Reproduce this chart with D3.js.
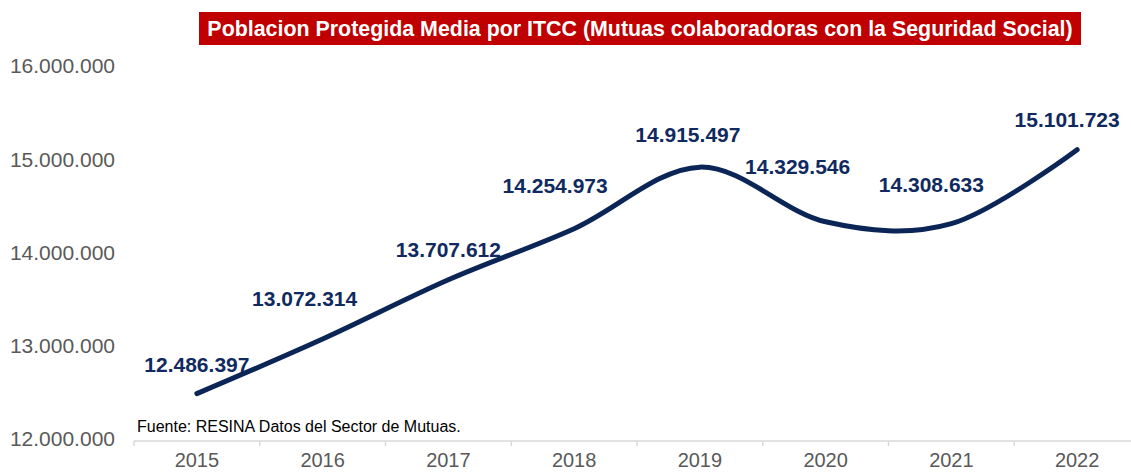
<!DOCTYPE html>
<html>
<head>
<meta charset="utf-8">
<script src="https://cdn.jsdelivr.net/npm/d3@7"></script>
<style>
  body { margin: 0; background: #fff; }
  svg { display: block; font-family: "Liberation Sans", Arial, sans-serif; }
</style>
</head>
<body>
<svg width="1131" height="472"></svg>
<script>
const years = ["2015", "2016", "2017", "2018", "2019", "2020", "2021", "2022"];
const poblacion = [12486397, 13072314, 13707612, 14254973, 14915497, 14329546, 14308633, 15101723];
const yTicks = [12000000, 13000000, 14000000, 15000000, 16000000];

// hand placed data labels (dx, dy from the point), like the Excel original
const labelOffsets = [[0, -29], [-18, -40], [0, -30], [-19, -43], [-12, -32], [-28, -55], [-20, -39], [-10, -30]];

const svg = d3.select("svg"),
    width = +svg.attr("width"),
    height = +svg.attr("height");

const navy = "#0c2557",
    gray = "#595959";

// number format with dots as thousands separator
const es = d3.formatLocale({ decimal: ",", thousands: ".", grouping: [3], currency: ["", "€"] });
const fmt = es.format(",.0f");

const x = d3.scaleBand()
    .domain(years)
    .range([134, 1140]);

const y = d3.scaleLinear()
    .domain([12000000, 16000000])
    .range([439, 66]);

const cx = d => x(d) + x.bandwidth() / 2;

// title box
svg.append("rect")
    .attr("x", 199)
    .attr("y", 12)
    .attr("width", 882)
    .attr("height", 33)
    .attr("fill", "#c00000");

svg.append("text")
    .attr("x", 640)
    .attr("y", 36)
    .attr("text-anchor", "middle")
    .attr("fill", "#fff")
    .style("font-size", "21.4px")
    .style("font-weight", "bold")
    .text("Poblacion Protegida Media por ITCC (Mutuas colaboradoras con la Seguridad Social)");

// y axis labels (no axis line, no grid)
svg.append("g")
    .selectAll("text")
    .data(yTicks)
    .enter().append("text")
    .attr("x", 115)
    .attr("y", d => y(d))
    .attr("dy", "0.35em")
    .attr("text-anchor", "end")
    .attr("fill", gray)
    .style("font-size", "21px")
    .text(d => fmt(d));

// x axis: line plus ticks between the categories
const xAxis = svg.append("g");
xAxis.append("line")
    .attr("x1", x.range()[0])
    .attr("x2", x.range()[1])
    .attr("y1", 441)
    .attr("y2", 441)
    .attr("stroke", "#d9d9d9")
    .attr("stroke-width", 1.5);

xAxis.selectAll("line.tick")
    .data(years)
    .enter().append("line")
    .attr("class", "tick")
    .attr("x1", d => x(d))
    .attr("x2", d => x(d))
    .attr("y1", 441)
    .attr("y2", 446)
    .attr("stroke", "#d9d9d9")
    .attr("stroke-width", 1.5);

xAxis.selectAll("text")
    .data(years)
    .enter().append("text")
    .attr("x", d => cx(d))
    .attr("y", 467)
    .attr("text-anchor", "middle")
    .attr("fill", gray)
    .style("font-size", "20px")
    .text(d => d);

// smoothed line
const line = d3.line()
    .x((d, i) => cx(years[i]))
    .y(d => y(d))
    .curve(d3.curveCatmullRom.alpha(0));

svg.append("path")
    .datum(poblacion)
    .attr("d", line)
    .attr("fill", "none")
    .attr("stroke", navy)
    .attr("stroke-width", 5)
    .attr("stroke-linecap", "round")
    .attr("stroke-linejoin", "round");

// data labels
svg.append("g")
    .selectAll("text")
    .data(poblacion)
    .enter().append("text")
    .attr("x", (d, i) => cx(years[i]) + labelOffsets[i][0])
    .attr("y", (d, i) => y(d) + labelOffsets[i][1])
    .attr("dy", "0.35em")
    .attr("text-anchor", "middle")
    .attr("fill", "#102a60")
    .style("font-size", "21px")
    .style("font-weight", "bold")
    .text(d => fmt(d));

// source note
svg.append("text")
    .attr("x", 137)
    .attr("y", 432)
    .attr("fill", "#000")
    .style("font-size", "16px")
    .text("Fuente: RESINA Datos del Sector de Mutuas.");
</script>
</body>
</html>
